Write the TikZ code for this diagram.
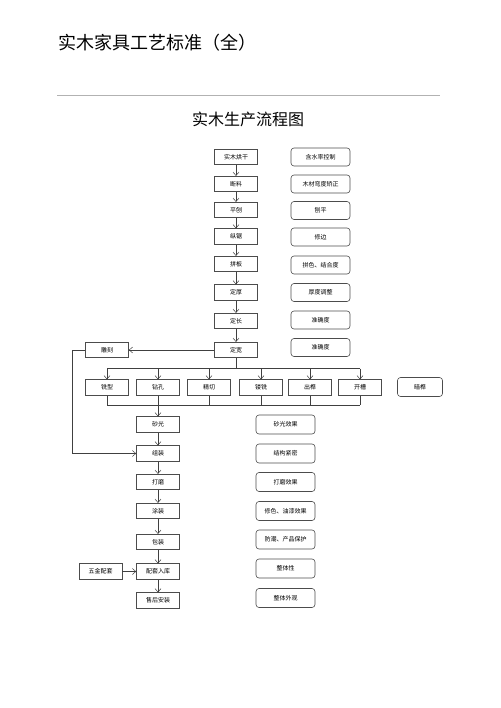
\documentclass[tikz,border=0pt]{standalone}
\usepackage{fontspec}
\setmainfont{Noto Sans CJK SC}
\usetikzlibrary{arrows.meta}
\begin{document}
\begin{tikzpicture}[x=1pt,y=-1pt,
  box/.style={draw=black!70,line width=0.6pt,minimum width=43pt,minimum height=15.5pt,inner sep=0pt,font=\fontsize{6}{7}\selectfont},
  rbox/.style={draw=black!70,line width=0.6pt,rounded corners=3pt,minimum width=59pt,minimum height=19pt,inner sep=0pt,font=\fontsize{6}{7}\selectfont},
  arr/.style={draw=black!75,line width=0.5pt,-{Straight Barb[length=3.5pt,width=6pt]}},
  ln/.style={draw=black!75,line width=0.5pt}]
\useasboundingbox (0,0) rectangle (500,708);
\node[anchor=west,font=\fontsize{18}{20}\selectfont] (title) at (55,43) {实木家具工艺标准（全）};
\draw[black!30,line width=0.6pt] (57,95) -- (440,95);
\node[font=\fontsize{16}{18}\selectfont] (sub) at (248,119) {实木生产流程图};
% main column
\node[box] (a1) at (236,157) {实木烘干};
\node[box] (a2) at (236,184) {断料};
\node[box] (a3) at (236,210) {平刨};
\node[box] (a4) at (236,236.5) {纵锯};
\node[box] (a5) at (236,264) {拼板};
\node[box] (a6) at (236,292.5) {定厚};
\node[box] (a7) at (236,321) {定长};
\node[box] (a8) at (236,350) {定宽};
% right notes
\node[rbox,minimum height=18pt] (r1) at (320.5,157) {含水率控制};
\node[rbox,minimum height=18pt] (r2) at (320.5,184) {木材弯度矫正};
\node[rbox,minimum height=18pt] (r3) at (320.5,210.5) {刨平};
\node[rbox,minimum height=18pt] (r4) at (320.5,237) {修边};
\node[rbox,minimum height=18pt] (r5) at (320.5,265) {拼色、结合度};
\node[rbox,minimum height=18pt] (r6) at (320.5,292.5) {厚度调整};
\node[rbox,minimum height=18pt] (r7) at (320.5,320) {准确度};
\node[rbox,minimum height=18pt] (r8) at (320.5,347.5) {准确度};
% carving
\node[box] (d) at (107,350) {雕刻};
% row
\node[box] (b1) at (107,387.5) {铣型};
\node[box] (b2) at (158,387.5) {钻孔};
\node[box] (b3) at (209,387.5) {精切};
\node[box] (b4) at (261,387.5) {镂铣};
\node[box] (b5) at (310,387.5) {出榫};
\node[box] (b6) at (360,387.5) {开槽};
\node[rbox,minimum width=45pt] (bn) at (420,387) {暗榫};
% lower column
\node[box] (c1) at (158,424.5) {砂光};
\node[box] (c2) at (158,453.5) {组装};
\node[box] (c3) at (158,482) {打磨};
\node[box] (c4) at (158,511) {涂装};
\node[box] (c5) at (158,542) {包装};
\node[box] (c6) at (158,571.5) {配套入库};
\node[box] (c7) at (158,600.5) {售后安装};
\node[box] (w) at (100.5,571.5) {五金配套};
% lower notes
\node[rbox] (s1) at (285.5,424.5) {砂光效果};
\node[rbox] (s2) at (285.5,453.5) {结构紧密};
\node[rbox] (s3) at (285.5,482) {打磨效果};
\node[rbox] (s4) at (285.5,511) {修色、油漆效果};
\node[rbox] (s5) at (285.5,539.5) {防潮、产品保护};
\node[rbox] (s6) at (285.5,568.5) {整体性};
\node[rbox] (s7) at (285.5,598) {整体外观};
% connectors main column
\foreach \i/\j in {a1/a2,a2/a3,a3/a4,a4/a5,a5/a6,a6/a7,a7/a8}
  \draw[arr] (\i) -- (\j);
\draw[arr] (a8) -- (d);
% bus
\coordinate (t0) at (236,368.5);
\draw[ln] (a8.south) -- (t0);
\draw[ln] (b1.north |- t0) -- (b6.north |- t0);
\foreach \b in {b1,b2,b3,b4,b5,b6}
  \draw[arr] (\b.north |- t0) -- (\b.north);
\coordinate (u0) at (158,405);
\foreach \b in {b1,b2,b3,b4,b5,b6}
  \draw[ln] (\b.south) -- (\b.south |- u0);
\draw[ln] (b1.south |- u0) -- (b6.south |- u0);
\draw[arr] (u0) -- (c1.north);
% loop
\coordinate (k1) at (72,350);
\coordinate (k2) at (72,453.5);
\draw[arr] (d.west) -- (k1) -- (k2) -- (c2.west);
\foreach \i/\j in {c1/c2,c2/c3,c3/c4,c4/c5,c5/c6,c6/c7}
  \draw[arr] (\i) -- (\j);
\draw[arr] (w) -- (c6);
\end{tikzpicture}
\end{document}
